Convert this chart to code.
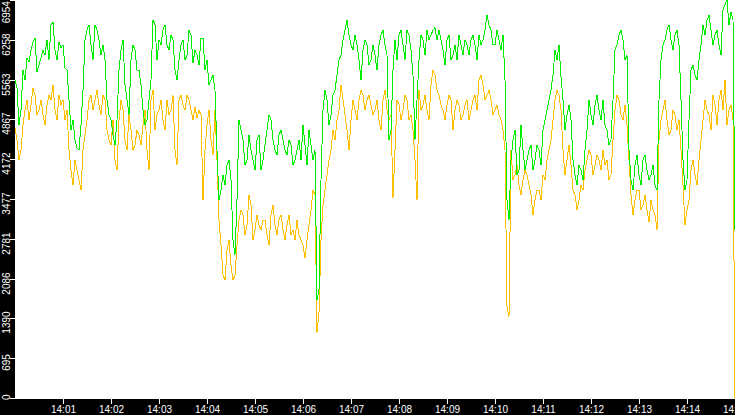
<!DOCTYPE html>
<html>
<head>
<meta charset="utf-8">
<script src="https://cdn.jsdelivr.net/npm/d3@7"></script>
<style>
  html, body { margin: 0; padding: 0; background: #fff; overflow: hidden; }
  svg { display: block; }
  .labels { font-family: "Liberation Sans", Arial, sans-serif; font-size: 10px; fill: #fff; }
</style>
</head>
<body>
<div id="chart"></div>
<script>
// samples every 2.5 seconds starting at 14:00:00
const startTime = "2000-01-01T14:00:00";
const stepSeconds = 2.5;

const greenValues = [
  5560, 5420, 4770, 5030, 5730, 5560, 5940, 5870, 6080, 6220, 6290, 5700, 5820, 5940, 6080, 5990, 6260, 5910, 6520, 6570,
  6080, 5910, 6220, 6120, 6170, 5770, 5730, 5210, 4680, 4860, 4510, 4370, 4330, 4770, 5380, 6260, 6430, 6520, 6170, 5910,
  6520, 6430, 6260, 5990, 6170, 5910, 5210, 4950, 4860, 4600, 4420, 4860, 5730, 6080, 6260, 5470, 5210, 4950, 5910, 6170,
  6080, 5730, 5730, 5470, 5030, 4770, 4860, 5210, 5560, 6600, 6520, 5910, 6260, 6170, 6430, 6520, 6170, 6080, 6340, 6260,
  5730, 5560, 5910, 6170, 6260, 5910, 5990, 6430, 6340, 5850, 6080, 5990, 5820, 6290, 6290, 5730, 5910, 5470, 5560, 5640,
  5380, 4330, 3460, 3630, 3900, 3720, 4070, 4160, 3810, 2760, 2500, 3460, 4860, 4680, 4510, 4070, 4160, 4600, 4330, 4160,
  3980, 4510, 4600, 3980, 4160, 4420, 4680, 4950, 4860, 4510, 4330, 4250, 4600, 4680, 4510, 4330, 4250, 4510, 4420, 4070,
  4160, 4330, 4510, 4160, 4770, 4420, 4070, 4680, 4420, 4160, 4330, 1710, 1890, 3810, 5030, 5380, 5210, 4770, 4950, 5290,
  5380, 5640, 5910, 5990, 6260, 6430, 6600, 6340, 6170, 6080, 6340, 6170, 5910, 5560, 6080, 6260, 6170, 5820, 5910, 6170,
  5990, 5730, 6170, 6340, 6430, 6170, 5990, 4510, 4680, 5730, 6260, 5910, 6340, 6430, 6170, 5910, 6430, 6340, 6080, 5640,
  4510, 5210, 5910, 6340, 6260, 5990, 6430, 6260, 6340, 6430, 6470, 6260, 6430, 6260, 6080, 5820, 6260, 6340, 5910, 5990,
  6170, 5910, 6340, 6170, 5990, 6260, 6170, 5990, 6260, 6340, 6170, 5910, 6340, 6170, 6260, 6430, 6690, 6520, 6430, 6170,
  6170, 6430, 6260, 6080, 6340, 5560, 3460, 3110, 4160, 4510, 4680, 3900, 3980, 4770, 4330, 3980, 4160, 4330, 4420, 3980,
  4160, 4420, 4330, 4070, 4680, 4860, 5030, 5210, 5380, 5640, 6080, 5910, 6170, 5610, 5210, 4680, 4950, 5120, 4860, 4160,
  3900, 3720, 4070, 3980, 3810, 4330, 4680, 5210, 4950, 4770, 5120, 5290, 5030, 4860, 5210, 4770, 4680, 4420, 4510, 5210,
  6080, 6170, 6340, 6430, 6260, 5910, 5990, 4330, 3810, 3630, 4070, 4250, 3900, 3720, 4160, 4250, 3980, 3810, 3900, 4070,
  3720, 3630, 5210, 5910, 6170, 6260, 6430, 6520, 6260, 6080, 6340, 6430, 6170, 5210, 4160, 3630, 3810, 4860, 5730, 5820,
  5640, 5560, 5910, 6170, 6520, 6340, 6600, 6690, 6430, 6170, 6340, 6430, 6170, 5990, 6780, 6870, 6954, 6520, 6740, 6600,
  2940
];

const orangeValues = [
  4720, 4510, 4160, 4330, 4770, 5030, 5210, 4860, 5120, 5420, 5290, 4950, 5030, 5210, 4950, 4770, 5120, 5290, 5210, 5470,
  5030, 4860, 5290, 5120, 5210, 4860, 5030, 4330, 3980, 3720, 4160, 3980, 3810, 3630, 4330, 4600, 4860, 5210, 5290, 5030,
  5210, 5380, 5120, 4950, 5290, 5210, 4680, 4510, 4420, 4860, 4160, 3980, 4860, 5210, 5030, 4510, 4330, 4950, 4680, 4330,
  4420, 4680, 4600, 4420, 4770, 5030, 4330, 3980, 5210, 5380, 4680, 4950, 5030, 5210, 4860, 4680, 5210, 4950, 5030, 5290,
  4330, 4070, 5210, 5290, 5120, 5030, 5290, 5210, 5030, 4860, 5090, 4890, 5030, 4950, 3460, 4330, 4770, 5030, 4510, 4250,
  5030, 4160, 3110, 2670, 2150, 2060, 2590, 2760, 2320, 2060, 2150, 2670, 3110, 3290, 3200, 2850, 3020, 3550, 3370, 2760,
  2940, 3200, 3020, 2940, 3110, 3110, 2850, 2670, 3200, 3370, 3020, 2850, 3110, 3200, 2940, 2760, 3020, 3200, 2850, 2940,
  2760, 3110, 2850, 2760, 2670, 2450, 2760, 3020, 3290, 3630, 3550, 1140, 1500, 2760, 3370, 3630, 3900, 4160, 4330, 4680,
  4510, 4860, 5030, 5470, 5210, 4950, 4680, 4330, 4860, 5210, 5030, 4860, 5210, 5380, 5290, 5030, 5210, 5290, 5120, 4950,
  5030, 5210, 4860, 4680, 5210, 5380, 5030, 4860, 4950, 3500, 4330, 5210, 5120, 4860, 5030, 5290, 5210, 4860, 4950, 4680,
  4160, 3460, 5380, 5030, 5120, 5290, 5030, 4860, 5470, 5730, 5640, 5380, 5290, 5120, 5030, 4860, 5120, 5290, 5210, 4680,
  5030, 5210, 5120, 4860, 4950, 5120, 5210, 4860, 5030, 5210, 5290, 5030, 5560, 5640, 5470, 5210, 5290, 5380, 5210, 4950,
  5030, 5120, 4950, 4860, 4680, 4330, 1600, 1420, 4330, 3810, 3900, 4070, 3720, 3550, 3810, 3980, 3900, 3720, 3550, 3200,
  3460, 3630, 3630, 3460, 3900, 3810, 4160, 4330, 4510, 4860, 5210, 5380, 5290, 5030, 4330, 3900, 4160, 4420, 4070, 3630,
  3550, 3290, 3460, 3720, 3630, 3980, 4160, 4330, 4250, 3900, 4070, 4250, 4160, 3980, 4330, 4070, 4160, 3810, 3900, 4510,
  5030, 5290, 5210, 4950, 4860, 5120, 4770, 4160, 3550, 3200, 3460, 3630, 3630, 3290, 3370, 3550, 3290, 3080, 3460, 3290,
  3200, 2940, 4510, 4860, 5030, 5210, 4860, 4600, 4680, 5030, 4950, 4680, 4860, 4330, 3720, 3020, 3290, 3460, 3980, 4160,
  3900, 3720, 4160, 4510, 4860, 5210, 5030, 4950, 4680, 5290, 5120, 4770, 5210, 5380, 5030, 5560, 4770, 5030, 5120, 4860,
  0
];

const yTickLabels = ["0", "695", "1390", "2086", "2781", "3477", "4172", "4867", "5563", "6258", "6954"];
const xTickLabels = ["14:01", "14:02", "14:03", "14:04", "14:05", "14:06", "14:07", "14:08",
  "14:09", "14:10", "14:11", "14:12", "14:13", "14:14", "14:15"];

const container = { width: 735, height: 415 };
const plot = { left: 15, right: 735, top: 0, bottom: 398 };

const t0 = new Date(startTime);
const timeAt = (i) => new Date(t0.getTime() + i * stepSeconds * 1000);
const parseTick = (s) => new Date("2000-01-01T" + s + ":00");

const xScale = d3
  .scaleTime()
  .domain([t0, parseTick("14:15")])
  .range([plot.left, plot.right]);

const yScale = d3
  .scaleLinear()
  .domain([0, +yTickLabels[yTickLabels.length - 1]])
  .range([plot.bottom, plot.top]);

const svg = d3
  .select("#chart")
  .append("svg")
  .attr("width", container.width)
  .attr("height", container.height);

// plot area
svg
  .append("rect")
  .attr("x", 0)
  .attr("y", 0)
  .attr("width", container.width)
  .attr("height", container.height)
  .style("fill", "#fff");

const line = d3
  .line()
  .x(function (d, i) {
    return xScale(timeAt(i));
  })
  .y(function (d) {
    return yScale(d);
  });

// orange first, green on top
[
  { values: orangeValues, color: "#ffc000" },
  { values: greenValues, color: "#00ee00" },
].forEach(function (s) {
  svg
    .append("path")
    .datum(s.values)
    .attr("d", line)
    .style("fill", "none")
    .style("stroke", s.color)
    .style("stroke-width", 1)
    .style("shape-rendering", "crispEdges");
});

// black axis bands
svg
  .append("rect")
  .attr("x", 0)
  .attr("y", 0)
  .attr("width", plot.left)
  .attr("height", container.height)
  .style("fill", "#000");

svg
  .append("rect")
  .attr("x", 0)
  .attr("y", plot.bottom + 1)
  .attr("width", container.width)
  .attr("height", container.height - plot.bottom - 1)
  .style("fill", "#000");

// y axis ticks + rotated labels
const yAxis = svg.append("g").attr("class", "yaxis");
yTickLabels.forEach(function (lab) {
  const ty = Math.round(yScale(+lab)) + 0.5;
  yAxis
    .append("line")
    .attr("x1", plot.left - 5)
    .attr("x2", plot.left)
    .attr("y1", ty)
    .attr("y2", ty)
    .style("stroke", "#fff")
    .style("shape-rendering", "crispEdges");

  const half = lab.length * 2.8;
  const cy = Math.max(half + 1, Math.min(400 - half, ty + 4));
  yAxis
    .append("text")
    .attr("class", "labels")
    .attr("transform", "translate(10," + cy + ") rotate(-90)")
    .attr("text-anchor", "middle")
    .text(lab);
});

// x axis ticks + labels
const xAxis = svg.append("g").attr("class", "xaxis");
xTickLabels.forEach(function (lab) {
  const tx = Math.round(xScale(parseTick(lab))) + 0.5;
  xAxis
    .append("line")
    .attr("x1", tx)
    .attr("x2", tx)
    .attr("y1", plot.bottom + 1)
    .attr("y2", plot.bottom + 6)
    .style("stroke", "#fff")
    .style("shape-rendering", "crispEdges");

  xAxis
    .append("text")
    .attr("class", "labels")
    .attr("x", tx)
    .attr("y", 413)
    .attr("text-anchor", "middle")
    .text(lab);
});
</script>
</body>
</html>
